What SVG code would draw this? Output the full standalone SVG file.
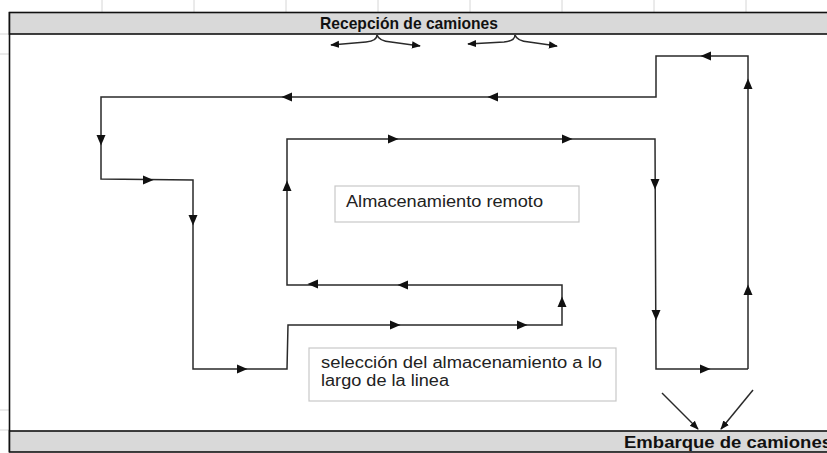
<svg xmlns="http://www.w3.org/2000/svg" xmlns:xlink="http://www.w3.org/1999/xlink" width="827" height="453" viewBox="0 0 827 453">
<style>
.bar{fill:#d9d9d9;stroke:#111;stroke-width:1.6}
.box{fill:#fff;stroke:#c8c8c8;stroke-width:1.2}
.ln{fill:none;stroke:#2a2a2a;stroke-width:1.5;stroke-linejoin:miter}
.tick{stroke:#d6d6d6;stroke-width:1}
.hd{font-family:"Liberation Sans",Arial,sans-serif;font-weight:bold;font-size:17px;fill:#111}
.tx{font-family:"Liberation Sans",Arial,sans-serif;font-size:16px;fill:#222}
.ah{fill:#111}
</style>
<defs>
<path id="ah" class="ah" d="M-5,-4.5 L5.5,0 L-5,4.5 Z"/>
<marker id="mk" viewBox="0 0 10 10" refX="9" refY="5" markerWidth="9" markerHeight="9" markerUnits="userSpaceOnUse" orient="auto">
<path d="M0,1 L10,5 L0,9 Z" fill="#111"/>
</marker>
</defs>
<rect width="827" height="453" fill="#fff"/>
<g id="grid-ticks">
<path class="tick" d="M102,0V12M194,0V12M286,0V12M378,0V12M470,0V12M562,0V12M654,0V12M746,0V12M0,34H9M0,54H9M0,410H9M0,430H9"/>
</g>
<g id="frame">
<line x1="9.5" y1="12" x2="9.5" y2="452" stroke="#111" stroke-width="1.6"/>
</g>
<g id="top-bar">
<rect class="bar" x="9.5" y="12.5" width="820" height="21.5"/>
<text class="hd" x="320" y="29" textLength="178" lengthAdjust="spacingAndGlyphs">Recepción de camiones</text>
</g>
<g id="bottom-bar">
<rect class="bar" x="9.5" y="431" width="820" height="21"/>
<text class="hd" x="624" y="447.5" textLength="208" lengthAdjust="spacingAndGlyphs">Embarque de camiones</text>
</g>
<g id="box-remoto">
<rect class="box" x="335" y="186" width="244" height="36"/>
<text class="tx" x="346" y="207" textLength="197" lengthAdjust="spacingAndGlyphs">Almacenamiento remoto</text>
</g>
<g id="box-seleccion">
<rect class="box" x="309" y="348" width="307" height="53"/>
<text class="tx" x="321" y="368" textLength="281" lengthAdjust="spacingAndGlyphs">selección del almacenamiento a lo</text>
<text class="tx" x="321" y="386" textLength="128" lengthAdjust="spacingAndGlyphs">largo de la linea</text>
</g>
<g id="connectors">
<path class="ln" d="M748,369 V56 H656 V97 H101 V179 L193,180 V369 H287 L288,325 H562 V285 H287 V139 H655 L656,369 H748"/>
<path class="ln" marker-end="url(#mk)" d="M377,35 Q377,41 366,42 L331,45"/>
<path class="ln" marker-end="url(#mk)" d="M377,35 Q379,41 391,42 L420,46"/>
<path class="ln" marker-end="url(#mk)" d="M515,35 Q515,41 504,42 L468,44"/>
<path class="ln" marker-end="url(#mk)" d="M515,35 Q517,41 529,42 L557,46"/>
<path class="ln" marker-end="url(#mk)" d="M662,393 L698,429"/>
<path class="ln" marker-end="url(#mk)" d="M753,390 L721,429"/>
<g id="arrowheads">
<use xlink:href="#ah" transform="translate(748,290) rotate(-90)"/>
<use xlink:href="#ah" transform="translate(748,84) rotate(-90)"/>
<use xlink:href="#ah" transform="translate(706,56) rotate(180)"/>
<use xlink:href="#ah" transform="translate(493,97) rotate(180)"/>
<use xlink:href="#ah" transform="translate(287,97) rotate(180)"/>
<use xlink:href="#ah" transform="translate(101,140) rotate(90)"/>
<use xlink:href="#ah" transform="translate(148,180)"/>
<use xlink:href="#ah" transform="translate(193,220) rotate(90)"/>
<use xlink:href="#ah" transform="translate(242,369)"/>
<use xlink:href="#ah" transform="translate(395,325)"/>
<use xlink:href="#ah" transform="translate(522,325)"/>
<use xlink:href="#ah" transform="translate(562,302) rotate(-90)"/>
<use xlink:href="#ah" transform="translate(403,285) rotate(180)"/>
<use xlink:href="#ah" transform="translate(313,284) rotate(180)"/>
<use xlink:href="#ah" transform="translate(287,186) rotate(-90)"/>
<use xlink:href="#ah" transform="translate(393,139)"/>
<use xlink:href="#ah" transform="translate(567,139)"/>
<use xlink:href="#ah" transform="translate(655,184) rotate(90)"/>
<use xlink:href="#ah" transform="translate(656,315) rotate(90)"/>
<use xlink:href="#ah" transform="translate(705,369)"/>
</g>
</g>
</svg>
